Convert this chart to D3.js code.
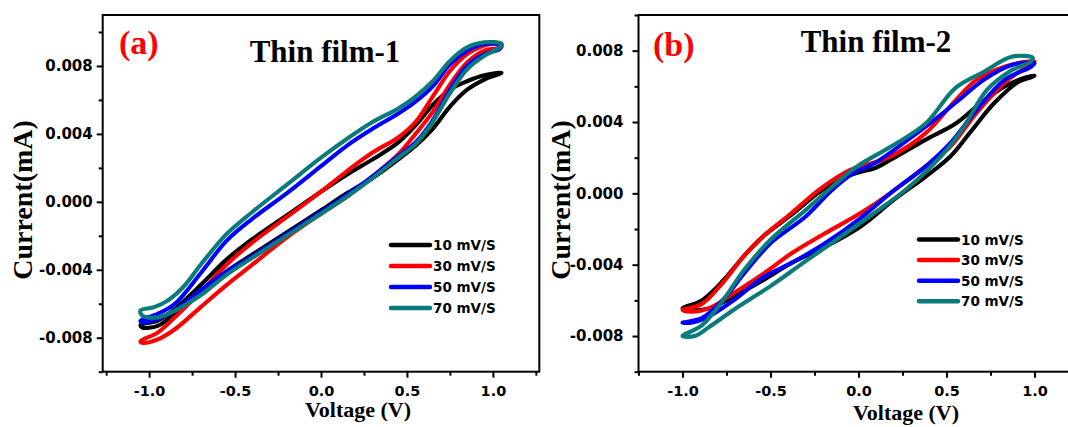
<!DOCTYPE html>
<html>
<head>
<meta charset="utf-8">
<script src="https://cdn.jsdelivr.net/npm/d3@7"></script>
<style>
  html, body { margin: 0; padding: 0; background: #fff; }
  svg { display: block; }
</style>
</head>
<body>
<svg id="chart" width="1068" height="427"></svg>
<script>
// Scan rates shown in both legends
const rates = ["10 mV/S", "30 mV/S", "50 mV/S", "70 mV/S"];

// Axis ticks
const voltTicks = [-1.25, -1.0, -0.75, -0.5, -0.25, 0.0, 0.25, 0.5, 0.75, 1.0, 1.25];
const voltLabels = [-1.0, -0.5, 0.0, 0.5, 1.0];
const currTicks = [-0.010, -0.008, -0.006, -0.004, -0.002, 0.000, 0.002, 0.004, 0.006, 0.008, 0.010];
const currLabels = [-0.008, -0.004, 0.000, 0.004, 0.008];

// Thin film-1 loops: [voltage (V), current (mA)], forward sweep then reverse sweep
const film1Rate10 = [
  [-1.05, -0.00725], [-0.95, -0.0070], [-0.85, -0.0063], [-0.70, -0.0049], [-0.55, -0.0034],
  [-0.40, -0.0022], [-0.20, -0.0008], [0.00, 0.0006], [0.15, 0.0016], [0.30, 0.0025],
  [0.45, 0.0035], [0.55, 0.0045], [0.65, 0.0057], [0.75, 0.0066], [0.85, 0.0071],
  [0.95, 0.00745], [1.05, 0.0076],
  [1.03, 0.0075], [0.95, 0.0072], [0.85, 0.0066], [0.75, 0.0056], [0.65, 0.0043],
  [0.55, 0.0033], [0.45, 0.0025], [0.30, 0.0014], [0.15, 0.0005], [0.00, -0.0005],
  [-0.20, -0.0018], [-0.40, -0.0031], [-0.55, -0.0041], [-0.70, -0.0053], [-0.85, -0.0066],
  [-0.95, -0.0073], [-1.04, -0.0074]
];
const film1Rate30 = [
  [-1.05, -0.0082], [-0.95, -0.0077], [-0.85, -0.0068], [-0.70, -0.0053], [-0.55, -0.0037],
  [-0.40, -0.0024], [-0.20, -0.0009], [0.00, 0.0006], [0.15, 0.0018], [0.30, 0.0029],
  [0.45, 0.0038], [0.55, 0.0047], [0.65, 0.0062], [0.75, 0.0077], [0.85, 0.0087],
  [0.95, 0.0092], [1.05, 0.0093],
  [1.04, 0.0091], [0.95, 0.0089], [0.85, 0.0082], [0.75, 0.0069], [0.65, 0.0053],
  [0.55, 0.0040], [0.45, 0.0028], [0.30, 0.0015], [0.15, 0.0003], [0.00, -0.0007],
  [-0.20, -0.0021], [-0.40, -0.0037], [-0.55, -0.0049], [-0.70, -0.0062], [-0.85, -0.0075],
  [-0.95, -0.0081], [-1.04, -0.0083]
];
const film1Rate50 = [
  [-1.05, -0.0070], [-0.95, -0.0066], [-0.85, -0.0060], [-0.70, -0.0042], [-0.55, -0.0023],
  [-0.40, -0.0010], [-0.20, 0.0005], [0.00, 0.0021], [0.15, 0.0033], [0.30, 0.0043],
  [0.45, 0.0052], [0.55, 0.0059], [0.65, 0.0068], [0.75, 0.0081], [0.85, 0.0089],
  [0.95, 0.0093], [1.05, 0.0092],
  [1.04, 0.0090], [0.95, 0.0087], [0.85, 0.0080], [0.75, 0.0066], [0.65, 0.0048],
  [0.55, 0.0035], [0.45, 0.0027], [0.30, 0.0015], [0.15, 0.0004], [0.00, -0.0006],
  [-0.20, -0.0019], [-0.40, -0.0032], [-0.55, -0.0041], [-0.70, -0.0052], [-0.85, -0.0064],
  [-0.95, -0.0069], [-1.04, -0.0071]
];
const film1Rate70 = [
  [-1.05, -0.0064], [-0.97, -0.0062], [-0.89, -0.0058], [-0.80, -0.0050], [-0.70, -0.0037],
  [-0.55, -0.0019], [-0.40, -0.0006], [-0.20, 0.0010], [0.00, 0.0026], [0.15, 0.0037],
  [0.30, 0.0047], [0.45, 0.0055], [0.55, 0.0062], [0.65, 0.0071], [0.75, 0.0083],
  [0.85, 0.0091], [0.95, 0.0094], [1.05, 0.0093],
  [1.04, 0.0091], [0.95, 0.0086], [0.85, 0.0078], [0.75, 0.0064], [0.65, 0.0047],
  [0.55, 0.0034], [0.45, 0.0026], [0.30, 0.0014], [0.15, 0.0003], [0.00, -0.0007],
  [-0.20, -0.0020], [-0.40, -0.0033], [-0.55, -0.0043], [-0.70, -0.0055], [-0.85, -0.0064],
  [-0.95, -0.0068], [-1.04, -0.0067]
];

// Thin film-2 loops: [voltage (V), current (mA)]
const film2Rate10 = [
  [-1.00, -0.00645], [-0.89, -0.0060], [-0.77, -0.0049], [-0.65, -0.0035], [-0.54, -0.0024],
  [-0.38, -0.0012], [-0.21, 0.00015], [-0.07, 0.00093], [0.01, 0.0012], [0.09, 0.0014],
  [0.18, 0.00187], [0.38, 0.0030], [0.55, 0.0039], [0.67, 0.00486], [0.83, 0.0060],
  [0.95, 0.0065], [1.00, 0.0066],
  [0.98, 0.0065], [0.91, 0.00626], [0.77, 0.00505], [0.63, 0.00336], [0.52, 0.00205],
  [0.38, 0.00093], [0.20, -0.00037], [0.01, -0.00187], [-0.19, -0.0030], [-0.38, -0.0039],
  [-0.54, -0.00486], [-0.71, -0.0058], [-0.85, -0.00645], [-0.95, -0.00654]
];
const film2Rate30 = [
  [-1.00, -0.00654], [-0.89, -0.0062], [-0.77, -0.0050], [-0.65, -0.0035], [-0.54, -0.0024],
  [-0.38, -0.0011], [-0.21, 0.0003], [-0.05, 0.0013], [0.01, 0.0015], [0.18, 0.00206],
  [0.38, 0.00336], [0.55, 0.0052], [0.67, 0.00636], [0.83, 0.0071], [0.95, 0.00738],
  [1.00, 0.0074],
  [0.98, 0.0072], [0.91, 0.0068], [0.83, 0.0062], [0.67, 0.0045], [0.52, 0.0026],
  [0.38, 0.0015], [0.18, 0.0000], [0.01, -0.00112], [-0.19, -0.00224], [-0.38, -0.00336],
  [-0.54, -0.0045], [-0.71, -0.0056], [-0.85, -0.00645], [-0.95, -0.00664]
];
const film2Rate50 = [
  [-1.00, -0.00725], [-0.89, -0.0070], [-0.77, -0.00598], [-0.65, -0.00449], [-0.50, -0.0028],
  [-0.30, -0.0013], [-0.15, 0.00019], [-0.03, 0.00112], [0.09, 0.00168], [0.28, 0.0030],
  [0.48, 0.0045], [0.59, 0.0054], [0.71, 0.00636], [0.87, 0.0072], [1.00, 0.0073],
  [0.98, 0.0071], [0.83, 0.00636], [0.67, 0.00467], [0.52, 0.0028], [0.38, 0.0015],
  [0.18, 0.0000], [0.01, -0.0014], [-0.19, -0.0028], [-0.38, -0.0039], [-0.54, -0.0047],
  [-0.71, -0.0060], [-0.85, -0.0069], [-0.95, -0.00725]
];
const film2Rate70 = [
  [-1.00, -0.0080], [-0.89, -0.0074], [-0.77, -0.0060], [-0.65, -0.0043], [-0.50, -0.0026],
  [-0.30, -0.00093], [-0.15, 0.00037], [-0.01, 0.0015], [0.18, 0.0026], [0.38, 0.0039],
  [0.55, 0.0059], [0.71, 0.0068], [0.87, 0.00766], [0.99, 0.0076],
  [0.98, 0.0074], [0.87, 0.0069], [0.73, 0.0058], [0.59, 0.0036], [0.48, 0.0022],
  [0.28, 0.0003], [0.09, -0.0011], [-0.11, -0.0025], [-0.30, -0.0038], [-0.50, -0.0052],
  [-0.69, -0.0064], [-0.85, -0.0075], [-0.93, -0.0080]
];

const film1Loops = [film1Rate10, film1Rate30, film1Rate50, film1Rate70];
const film2Loops = [film2Rate10, film2Rate30, film2Rate50, film2Rate70];

const colors = ["#000000", "#ff0000", "#0000ff", "#0a7b7b"];
const svg = d3.select("#chart");
const sansBold = "'DejaVu Sans', 'Liberation Sans', Arial, sans-serif";
const serif = "'Liberation Serif', 'Times New Roman', serif";
const isIn = (arr, d) => arr.some(v => Math.abs(v - d) < 1e-9);

function drawPanel(cfg) {
  const x = d3.scaleLinear().domain(cfg.xDomain).range([cfg.left, cfg.right]);
  const y = d3.scaleLinear().domain(cfg.yDomain).range([cfg.bottom, cfg.top]);
  const g = svg.append("g");

  // CV loops
  const line = d3.line()
    .x(d => x(d[0]))
    .y(d => y(d[1]))
    .curve(d3.curveCatmullRomClosed.alpha(0.5));
  cfg.loops.forEach((loop, i) => {
    g.append("path")
      .attr("d", line(loop))
      .attr("fill", "none")
      .attr("stroke", colors[i])
      .attr("stroke-width", 4.1)
      .attr("stroke-linejoin", "round");
  });

  // bottom axis
  const xAxis = d3.axisBottom(x)
    .tickValues(cfg.xTicks)
    .tickSizeOuter(0)
    .tickSize(6)
    .tickPadding(8)
    .tickFormat(d => isIn(voltLabels, d) ? d.toFixed(1) : "");
  const gx = g.append("g").attr("transform", `translate(0,${cfg.bottom})`).call(xAxis);
  gx.select(".domain").remove();
  gx.selectAll(".tick line")
    .attr("stroke-width", 2)
    .attr("y2", d => isIn(voltLabels, d) ? 6 : 4);
  gx.selectAll(".tick text")
    .attr("font-family", sansBold).attr("font-weight", "bold").attr("font-size", 14.5)
    .attr("fill", "#000");

  // left axis
  const yAxis = d3.axisLeft(y)
    .tickValues(cfg.yTicks)
    .tickSizeOuter(0)
    .tickSize(6)
    .tickPadding(cfg.yPad)
    .tickFormat(d => isIn(currLabels, d) ? (Math.abs(d) < 1e-12 ? "0.000" : d.toFixed(3)) : "");
  const gy = g.append("g").attr("transform", `translate(${cfg.left},0)`).call(yAxis);
  gy.select(".domain").remove();
  gy.selectAll(".tick line")
    .attr("stroke-width", 2)
    .attr("x2", d => isIn(currLabels, d) ? -6 : -4);
  gy.selectAll(".tick text")
    .attr("font-family", sansBold).attr("font-weight", "bold").attr("font-size", 15)
    .attr("fill", "#000");

  // frame
  g.append("rect")
    .attr("x", cfg.left).attr("y", cfg.top)
    .attr("width", cfg.right - cfg.left).attr("height", cfg.bottom - cfg.top)
    .attr("fill", "none").attr("stroke", "#000").attr("stroke-width", 2);

  // axis titles
  g.append("text")
    .attr("transform", `translate(${cfg.yTitleX},${cfg.yTitleY}) rotate(-90)`)
    .attr("text-anchor", "middle")
    .attr("font-family", serif).attr("font-weight", "bold").attr("font-size", 28)
    .text("Current(mA)");
  g.append("text")
    .attr("x", cfg.xTitleX).attr("y", cfg.xTitleY)
    .attr("text-anchor", "middle")
    .attr("font-family", serif).attr("font-weight", "bold").attr("font-size", 22)
    .text("Voltage (V)");

  // panel tag and title
  g.append("text")
    .attr("x", cfg.tagX).attr("y", cfg.tagY)
    .attr("font-family", serif).attr("font-weight", "bold").attr("font-size", 34)
    .attr("fill", "#ff0000")
    .text(cfg.tag);
  g.append("text")
    .attr("x", cfg.titleX).attr("y", cfg.titleY)
    .attr("text-anchor", "middle")
    .attr("font-family", serif).attr("font-weight", "bold").attr("font-size", 31)
    .text(cfg.title);

  // legend
  rates.forEach((r, i) => {
    const ly = cfg.legY + i * cfg.legStep;
    g.append("line")
      .attr("x1", cfg.legX).attr("x2", cfg.legX + 39)
      .attr("y1", ly).attr("y2", ly)
      .attr("stroke", colors[i]).attr("stroke-width", 4.5).attr("stroke-linecap", "round");
    g.append("text")
      .attr("x", cfg.legX + 42).attr("y", ly + 5)
      .attr("font-family", sansBold).attr("font-weight", "bold").attr("font-size", 13.5)
      .text(r);
  });
}

drawPanel({
  loops: film1Loops,
  xDomain: [-1.27, 1.27], yDomain: [-0.010, 0.011],
  left: 102.7, right: 539.3, top: 15, bottom: 371.7,
  xTicks: voltTicks, yTicks: currTicks, yPad: 4,
  yTitleX: 32, yTitleY: 200, xTitleX: 358, xTitleY: 417,
  tag: "(a)", tagX: 119, tagY: 54,
  title: "Thin film-1", titleX: 325, titleY: 62,
  legX: 391, legY: 245, legStep: 21
});

drawPanel({
  loops: film2Loops,
  xDomain: [-1.25, 1.25], yDomain: [-0.010, 0.010],
  left: 638.5, right: 1078.5, top: 15, bottom: 371.7,
  xTicks: voltTicks, yTicks: currTicks, yPad: 9,
  yTitleX: 570, yTitleY: 200, xTitleX: 906, xTitleY: 420,
  tag: "(b)", tagX: 653, tagY: 56,
  title: "Thin film-2", titleX: 876, titleY: 52,
  legX: 919, legY: 239.5, legStep: 20.6
});
</script>
</body>
</html>
